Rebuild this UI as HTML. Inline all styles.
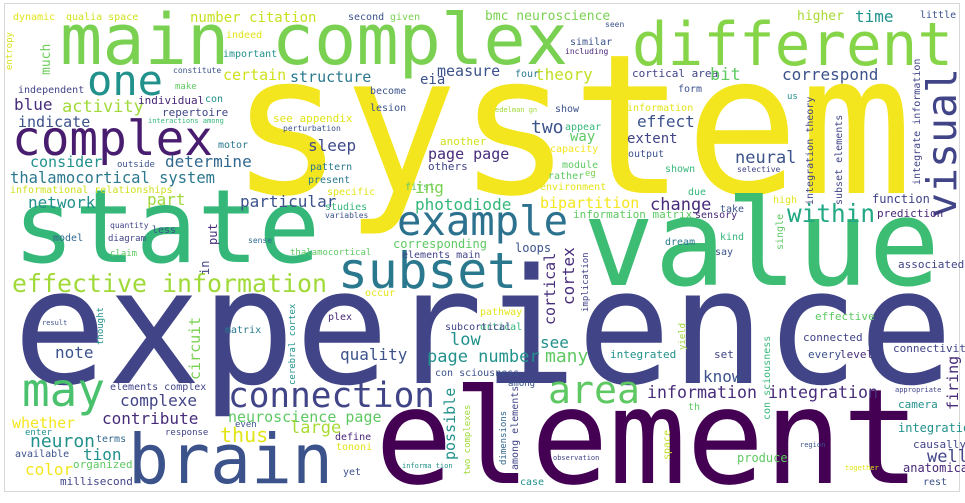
<!DOCTYPE html>
<html><head><meta charset="utf-8"><style>
html,body{margin:0;padding:0;background:#fff;width:965px;height:503px;overflow:hidden}
svg text{font-family:"DejaVu Sans Mono","Liberation Mono",monospace}
</style></head><body>
<svg width="965" height="503" viewBox="0 0 965 503" xmlns="http://www.w3.org/2000/svg">
<rect x="4.5" y="3.5" width="955" height="488" fill="#fff" stroke="#d8d8d8"/>
<!-- big words -->
<text x="230" y="193" font-size="195" fill="#f4e61e" textLength="683" lengthAdjust="spacingAndGlyphs">system</text>
<text x="13" y="383" font-size="160" fill="#414487" textLength="940" lengthAdjust="spacingAndGlyphs">experience</text>
<text x="375" y="483" font-size="132" fill="#440154" textLength="545" lengthAdjust="spacingAndGlyphs">element</text>
<text x="583" y="285" font-size="120" fill="#3dbc74" textLength="357" lengthAdjust="spacingAndGlyphs">value</text>
<text x="13" y="262" font-size="102" fill="#35b779" textLength="307" lengthAdjust="spacingAndGlyphs">state</text>
<text x="60" y="64" font-size="70" fill="#7ad151" textLength="508" lengthAdjust="spacingAndGlyphs">main complex</text>
<text x="632" y="65" font-size="60" fill="#86d549" textLength="321" lengthAdjust="spacingAndGlyphs">different</text>
<text x="128" y="483" font-size="69" fill="#3b528b" textLength="205" lengthAdjust="spacingAndGlyphs">brain</text>
<text x="12" y="155" font-size="48" fill="#481c6e" textLength="201" lengthAdjust="spacingAndGlyphs">complex</text>
<text x="87" y="95" font-size="42" fill="#21918c" textLength="76" lengthAdjust="spacingAndGlyphs">one</text>
<text x="338" y="288" font-size="50" fill="#2a788e" textLength="179" lengthAdjust="spacingAndGlyphs">subset</text>
<text x="397" y="235" font-size="41" fill="#2c728e" textLength="171" lengthAdjust="spacingAndGlyphs">example</text>
<text x="22" y="406" font-size="46" fill="#4ac16d" textLength="83" lengthAdjust="spacingAndGlyphs">may</text>
<text x="548" y="403" font-size="38" fill="#5ec962" textLength="92" lengthAdjust="spacingAndGlyphs">area</text>
<text x="228" y="407" font-size="35" fill="#414487" textLength="207" lengthAdjust="spacingAndGlyphs">connection</text>
<text transform="translate(956,218) rotate(-90)" font-size="41" fill="#414487" textLength="150" lengthAdjust="spacingAndGlyphs">visual</text>
<text x="787" y="222" font-size="25" fill="#22a884" textLength="88" lengthAdjust="spacingAndGlyphs">within</text>
<text x="12" y="292" font-size="25" fill="#a0da39" textLength="315" lengthAdjust="spacingAndGlyphs">effective information</text>
<text x="10" y="183" font-size="16" fill="#2a788e" textLength="205" lengthAdjust="spacingAndGlyphs">thalamocortical system</text>
<text x="647" y="398" font-size="17" fill="#472c7a" textLength="110" lengthAdjust="spacingAndGlyphs">information</text>
<text x="768" y="398" font-size="17" fill="#472c7a" textLength="110" lengthAdjust="spacingAndGlyphs">integration</text>
<!-- medium / small words -->
<g font-size="11">
<text x="13" y="20" fill="#e3e418" font-size="10">dynamic</text>
<text x="66" y="20" fill="#d0e11c" font-size="10">qualia space</text>
<text x="190" y="22" fill="#c8e020" font-size="14">number citation</text>
<text x="348" y="20" fill="#3b528b" font-size="10">second</text>
<text x="390" y="20" fill="#7ad151" font-size="10">given</text>
<text x="485" y="20" fill="#7ad151" font-size="13">bmc neuroscience</text>
<text x="605" y="27" fill="#3b528b" font-size="8">seen</text>
<text x="797" y="20" fill="#a8db34" font-size="13">higher</text>
<text x="855" y="22" fill="#21918c" font-size="16">time</text>
<text x="920" y="18" fill="#3b528b" font-size="10">little</text>
<text transform="translate(12,70) rotate(-90)" fill="#d8e219" font-size="9">entropy</text>
<text x="226" y="38" fill="#e3e418" font-size="10">indeed</text>
<text x="223" y="57" fill="#21918c" font-size="10">important</text>
<text transform="translate(50,75) rotate(-90)" fill="#6ccd5a" font-size="13">much</text>
<text x="570" y="45" fill="#3b528b" font-size="10">similar</text>
<text x="565" y="54" fill="#482878" font-size="8">including</text>
<text x="173" y="73" fill="#3b528b" font-size="8">constitute</text>
<text x="223" y="80" fill="#d0e11c" font-size="15">certain</text>
<text x="290" y="82" fill="#2a788e" font-size="15">structure</text>
<text x="437" y="76" fill="#3b528b" font-size="15">measure</text>
<text x="420" y="84" fill="#3b528b" font-size="14">eia</text>
<text x="535" y="80" fill="#c2df23" font-size="16">theory</text>
<text x="515" y="77" fill="#2a788e" font-size="10">four</text>
<text x="632" y="77" fill="#414487" font-size="11">cortical area</text>
<text x="710" y="80" fill="#5ec962" font-size="17">bit</text>
<text x="782" y="80" fill="#3b528b" font-size="16">correspond</text>
<text x="18" y="93" fill="#414487" font-size="10">independent</text>
<text x="175" y="89" fill="#5ec962" font-size="9">make</text>
<text x="678" y="92" fill="#3b528b" font-size="10">form</text>
<text x="370" y="94" fill="#3b528b" font-size="10">become</text>
<text x="787" y="99" fill="#21918c" font-size="9">us</text>
<text x="14" y="110" fill="#472c7a" font-size="16">blue</text>
<text x="62" y="112" fill="#a0da39" font-size="17">activity</text>
<text x="138" y="104" fill="#482878" font-size="11">individual</text>
<text x="205" y="102" fill="#21918c" font-size="10">con</text>
<text x="162" y="116" fill="#414487" font-size="11">repertoire</text>
<text x="370" y="111" fill="#3b528b" font-size="10">lesion</text>
<text x="555" y="112" fill="#3b528b" font-size="10">show</text>
<text x="627" y="111" fill="#e3e418" font-size="10">information</text>
<text x="495" y="112" fill="#a0da39" font-size="7">edelman gn</text>
<text x="148" y="123" fill="#35b779" font-size="7">interactions among</text>
<text x="273" y="122" fill="#e3e418" font-size="11">see appendix</text>
<text x="18" y="127" fill="#3b528b" font-size="15">indicate</text>
<text x="283" y="131" fill="#3b528b" font-size="8">perturbation</text>
<text x="531" y="133" fill="#3b528b" font-size="18">two</text>
<text x="565" y="130" fill="#35b779" font-size="10">appear</text>
<text x="637" y="127" fill="#3b528b" font-size="16">effect</text>
<text x="570" y="141" fill="#5ec962" font-size="14">way</text>
<text x="627" y="143" fill="#414487" font-size="14">extent</text>
<text x="218" y="148" fill="#2a788e" font-size="10">motor</text>
<text x="308" y="151" fill="#3e4989" font-size="16">sleep</text>
<text x="440" y="145" fill="#d0e11c" font-size="11">another</text>
<text x="550" y="152" fill="#f4e61e" font-size="10">capacity</text>
<text x="628" y="157" fill="#3b528b" font-size="10">output</text>
<text x="428" y="159" fill="#472c7a" font-size="15">page page</text>
<text x="735" y="163" fill="#3b528b" font-size="17">neural</text>
<text x="30" y="167" fill="#21918c" font-size="15">consider</text>
<text x="117" y="167" fill="#3b528b" font-size="9">outside</text>
<text x="165" y="167" fill="#31688e" font-size="16">determine</text>
<text x="562" y="168" fill="#5ec962" font-size="10">module</text>
<text x="428" y="170" fill="#414487" font-size="11">others</text>
<text x="310" y="170" fill="#2a788e" font-size="10">pattern</text>
<text x="737" y="172" fill="#414487" font-size="8">selective</text>
<text x="665" y="172" fill="#35b779" font-size="10">shown</text>
<text x="548" y="179" fill="#5ec962" font-size="10">rather</text>
<text x="585" y="176" fill="#7ad151" font-size="9">eg</text>
<text x="308" y="183" fill="#2a788e" font-size="10">present</text>
<text x="10" y="193" fill="#d0e11c" font-size="10">informational relationships</text>
<text x="405" y="190" fill="#5ec962" font-size="10">first</text>
<text x="415" y="193" fill="#7ad151" font-size="16">ing</text>
<text x="540" y="190" fill="#e3e418" font-size="10">environment</text>
<text x="688" y="195" fill="#35b779" font-size="10">due</text>
<text x="327" y="195" fill="#e3e418" font-size="10">specific</text>
<text transform="translate(813,205) rotate(-90)" fill="#414487" font-size="10">integration theory</text>
<text transform="translate(842,205) rotate(-90)" fill="#414487" font-size="10">subset elements</text>
<text transform="translate(920,185) rotate(-90)" fill="#414487" font-size="10">integrate information</text>
<text x="147" y="205" fill="#a0da39" font-size="16">part</text>
<text x="28" y="208" fill="#21918c" font-size="16">network</text>
<text x="240" y="207" fill="#3b528b" font-size="16">particular</text>
<text x="325" y="210" fill="#35b779" font-size="10">studies</text>
<text x="415" y="210" fill="#35b779" font-size="16">photodiode</text>
<text x="540" y="208" fill="#f4e61e" font-size="15">bipartition</text>
<text x="650" y="210" fill="#472c7a" font-size="17">change</text>
<text x="872" y="203" fill="#414487" font-size="12">function</text>
<text x="773" y="203" fill="#e3e418" font-size="10">high</text>
<text x="720" y="212" fill="#3b528b" font-size="10">take</text>
<text x="573" y="218" fill="#5ec962" font-size="11">information matrix</text>
<text x="695" y="218" fill="#482878" font-size="10">sensory</text>
<text x="877" y="217" fill="#482878" font-size="11">prediction</text>
<text x="325" y="218" fill="#3b528b" font-size="8">variables</text>
<text x="110" y="228" fill="#414487" font-size="8">quantity</text>
<text x="152" y="233" fill="#3b528b" font-size="10">less</text>
<text transform="translate(217,245) rotate(-90)" fill="#472c7a" font-size="12">put</text>
<text x="53" y="241" fill="#31688e" font-size="10">model</text>
<text x="108" y="241" fill="#414487" font-size="9">diagram</text>
<text x="248" y="243" fill="#31688e" font-size="8">sense</text>
<text x="393" y="248" fill="#5ec962" font-size="12">corresponding</text>
<text x="720" y="240" fill="#35b779" font-size="10">kind</text>
<text x="665" y="245" fill="#2a788e" font-size="10">dream</text>
<text transform="translate(783,250) rotate(-90)" fill="#5ec962" font-size="10">single</text>
<text x="515" y="252" fill="#3b528b" font-size="12">loops</text>
<text x="715" y="255" fill="#3b528b" font-size="10">say</text>
<text x="110" y="256" fill="#5ec962" font-size="9">claim</text>
<text x="290" y="255" fill="#5ec962" font-size="9">thalamocortical</text>
<text x="402" y="258" fill="#414487" font-size="10">elements main</text>
<text transform="translate(209,275) rotate(-90)" fill="#414487" font-size="12">in</text>
<text transform="translate(574,305) rotate(-90)" fill="#472c7a" font-size="16">cortex</text>
<text transform="translate(555,325) rotate(-90)" fill="#472c7a" font-size="15">cortical</text>
<text transform="translate(588,312) rotate(-90)" fill="#414487" font-size="9">implication</text>
<text x="898" y="268" fill="#414487" font-size="11">associated</text>
<text x="365" y="296" fill="#e3e418" font-size="10">occur</text>
<text x="480" y="315" fill="#e3e418" font-size="10">pathway</text>
<text x="480" y="330" fill="#35b779" font-size="10">ortical</text>
<text x="815" y="320" fill="#5ec962" font-size="11">effective</text>
<text x="42" y="325" fill="#3b528b" font-size="7">result</text>
<text transform="translate(103,345) rotate(-90)" fill="#21918c" font-size="9">thought</text>
<text x="328" y="320" fill="#482878" font-size="10">plex</text>
<text x="225" y="333" fill="#2a788e" font-size="10">matrix</text>
<text transform="translate(295,385) rotate(-90)" fill="#21918c" font-size="9">cerebral cortex</text>
<text transform="translate(200,380) rotate(-90)" fill="#7ad151" font-size="15">circuit</text>
<text x="445" y="330" fill="#414487" font-size="10">subcortical</text>
<text x="803" y="341" fill="#414487" font-size="11">connected</text>
<text transform="translate(685,350) rotate(-90)" fill="#a0da39" font-size="9">yield</text>
<text x="450" y="345" fill="#21918c" font-size="17">low</text>
<text x="540" y="348" fill="#21918c" font-size="16">see</text>
<text x="893" y="352" fill="#414487" font-size="11">connectivity</text>
<text x="55" y="358" fill="#3b528b" font-size="16">note</text>
<text x="340" y="360" fill="#3b528b" font-size="16">quality</text>
<text x="427" y="362" fill="#21918c" font-size="17">page number</text>
<text x="545" y="362" fill="#5ec962" font-size="18">many</text>
<text x="610" y="358" fill="#21918c" font-size="11">integrated</text>
<text x="714" y="358" fill="#414487" font-size="11">set</text>
<text x="808" y="358" fill="#3b528b" font-size="11">every</text>
<text x="840" y="358" fill="#472c7a" font-size="11">level</text>
<text x="435" y="376" fill="#3b528b" font-size="10">con sciousness</text>
<text x="703" y="382" fill="#3b528b" font-size="16">know</text>
<text x="508" y="386" fill="#3b528b" font-size="9">among</text>
<text transform="translate(958,410) rotate(-90)" fill="#472c7a" font-size="15">firing</text>
<text x="895" y="392" fill="#414487" font-size="7">appropriate</text>
<text x="110" y="390" fill="#414487" font-size="10">elements complex</text>
<text transform="translate(770,420) rotate(-90)" fill="#35b779" font-size="10">con sciousness</text>
<text x="120" y="406" fill="#414487" font-size="16">complexe</text>
<text x="688" y="410" fill="#5ec962" font-size="10">th</text>
<text x="898" y="408" fill="#21918c" font-size="11">camera</text>
<text transform="translate(455,460) rotate(-90)" fill="#21918c" font-size="15">possible</text>
<text transform="translate(470,475) rotate(-90)" fill="#a0da39" font-size="9">two complexes</text>
<text transform="translate(506,465) rotate(-90)" fill="#31688e" font-size="9">dimensions</text>
<text transform="translate(518,470) rotate(-90)" fill="#414487" font-size="10">among elements</text>
<text x="102" y="424" fill="#472c7a" font-size="16">contribute</text>
<text x="12" y="428" fill="#f4e61e" font-size="15">whether</text>
<text x="228" y="422" fill="#5ec962" font-size="15">neuroscience page</text>
<text x="235" y="427" fill="#3b528b" font-size="9">even</text>
<text x="290" y="433" fill="#a8db34" font-size="17">large</text>
<text x="898" y="432" fill="#21918c" font-size="12">integration</text>
<text x="25" y="435" fill="#21918c" font-size="9">enter</text>
<text x="165" y="435" fill="#414487" font-size="9">response</text>
<text x="96" y="442" fill="#31688e" font-size="10">terms</text>
<text x="335" y="440" fill="#482878" font-size="10">define</text>
<text x="220" y="442" fill="#e3e418" font-size="20">thus</text>
<text x="30" y="447" fill="#21918c" font-size="18">neuron</text>
<text x="800" y="447" fill="#3b528b" font-size="7">region</text>
<text x="913" y="448" fill="#414487" font-size="11">causally</text>
<text transform="translate(670,460) rotate(-90)" fill="#c2df23" font-size="10">space</text>
<text x="83" y="460" fill="#21918c" font-size="16">tion</text>
<text x="336" y="450" fill="#e3e418" font-size="10">tononi</text>
<text x="15" y="457" fill="#3b528b" font-size="10">available</text>
<text x="553" y="460" fill="#414487" font-size="7">observation</text>
<text x="737" y="462" fill="#5ec962" font-size="12">produce</text>
<text x="927" y="462" fill="#414487" font-size="17">well</text>
<text x="73" y="468" fill="#5ec962" font-size="11">organized</text>
<text x="402" y="468" fill="#21918c" font-size="7">informa tion</text>
<text x="845" y="470" fill="#e3e418" font-size="7">together</text>
<text x="903" y="472" fill="#482878" font-size="12">anatomical</text>
<text x="25" y="475" fill="#f4e61e" font-size="16">color</text>
<text x="343" y="475" fill="#3b528b" font-size="10">yet</text>
<text x="60" y="485" fill="#414487" font-size="11">millisecond</text>
<text x="520" y="485" fill="#21918c" font-size="10">case</text>
<text x="923" y="485" fill="#3b528b" font-size="10">rest</text>
</g>
</svg>
</body></html>
